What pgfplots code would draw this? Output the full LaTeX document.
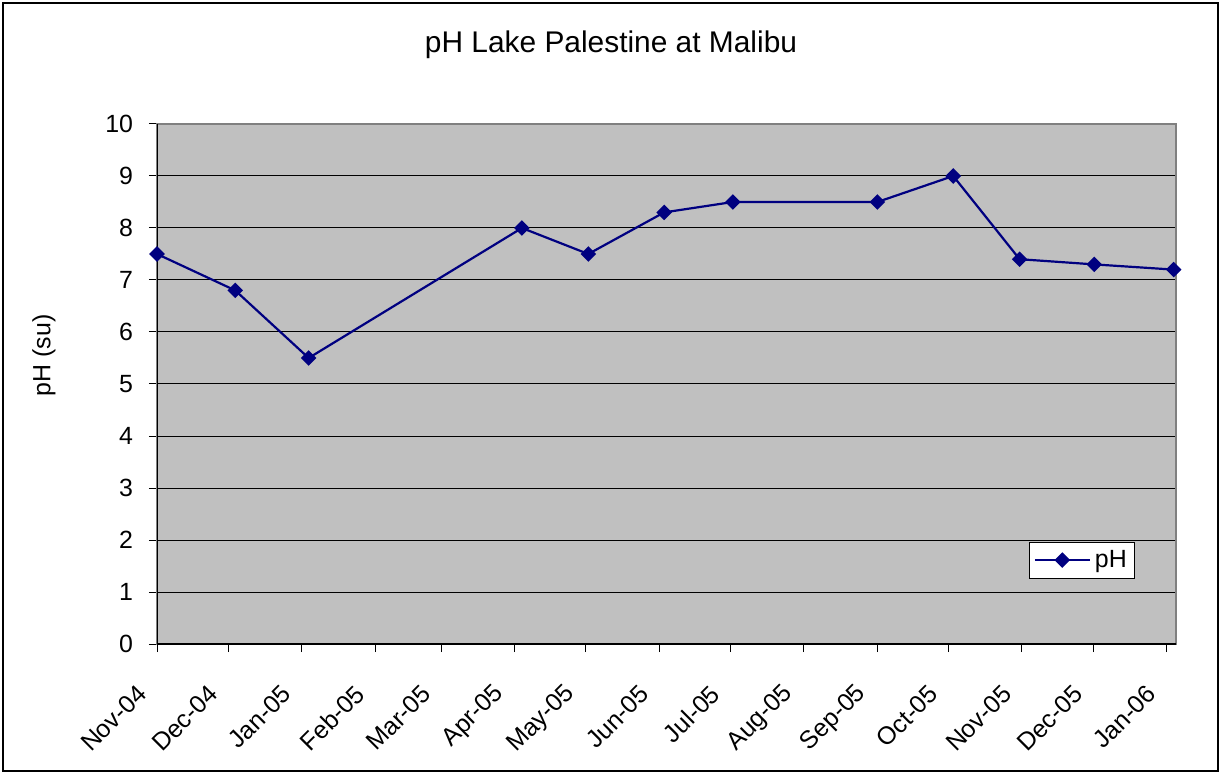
\documentclass[border=0pt]{standalone}
\usepackage{pgfplots}
\pgfplotsset{compat=1.18}
\usepackage{fontspec}
\setmainfont{Liberation Sans}
\definecolor{plotbg}{HTML}{C0C0C0}
\definecolor{navyline}{HTML}{000080}
\definecolor{frame}{HTML}{808080}
\begin{document}
\begin{tikzpicture}
\useasboundingbox (-78.5bp,-65bp) rectangle (532bp,322bp);
\draw[black, line width=0.8bp] (-77bp,-63.5bp) rectangle (530.5bp,320.5bp);
\node[font=\fontsize{15}{18}\selectfont] at (227bp,299.5bp) {pH Lake Palestine at Malibu};
\begin{axis}[
  at={(0,0)}, anchor=south west,
  scale only axis, width=509.5bp, height=260bp,
  xmin=0, xmax=430, ymin=0, ymax=10,
  xtick={0,30,61,92,120,151,181,212,242,273,304,334,365,395,426},
  xticklabels={Nov-04,Dec-04,Jan-05,Feb-05,Mar-05,Apr-05,May-05,Jun-05,Jul-05,Aug-05,Sep-05,Oct-05,Nov-05,Dec-05,Jan-06},
  ytick={0,1,...,10},
  xtick pos=bottom, ytick pos=left,
  tick align=outside,
  major tick length=4bp,
  tick style={black, line width=0.5bp},
  /pgf/number format/assume math mode=true,
  xticklabel style={rotate=45, anchor=east, xshift=-15.2bp, yshift=-8.1bp, font=\fontsize{12.5}{14}\selectfont},
  yticklabel style={font=\fontsize{12.5}{14}\selectfont, xshift=-4.5bp},
  ymajorgrids,
  major grid style={black, line width=0.5bp},
  axis background/.style={fill=plotbg},
  axis line style={frame, line width=0.8bp},
  ylabel={pH (su)},
  ylabel style={font=\fontsize{12.5}{14}\selectfont, at={(axis description cs:-0.111,0.555)}, anchor=center},
  legend style={at={(axis description cs:0.856,0.197)}, anchor=north west, draw=black, fill=white, line width=0.5bp, font=\fontsize{12.5}{14}\selectfont, inner sep=2pt},
  legend cell align=left,
  legend image code/.code={\draw[#1, line width=1.1bp] (0bp,0bp) -- (27.5bp,0bp); \draw[#1, mark repeat=1] plot coordinates {(13.75bp,0bp)};},
]
\addplot[color=navyline, line width=1.1bp, mark=square*, mark size=2.2bp, mark options={rotate=45, solid, fill=navyline}]
  coordinates {
  (0,7.5) (33,6.8) (64,5.5) (154,8.0) (182,7.5) (214,8.3) (243,8.5) (304,8.5) (336,9.0) (364,7.4) (395.5,7.3) (429,7.2)
  };
\addlegendentry{pH}
\draw[black, line width=0.8bp] (rel axis cs:0,1) -- (rel axis cs:0,0) -- (rel axis cs:1,0);
\end{axis}
\end{tikzpicture}
\end{document}
